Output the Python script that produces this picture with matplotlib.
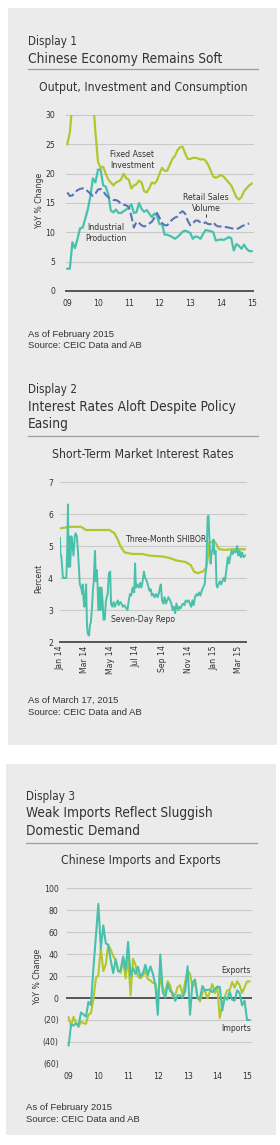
import matplotlib
matplotlib.use('Agg')
import matplotlib.pyplot as plt
from matplotlib.patches import Rectangle
from matplotlib.lines import Line2D

plt.rcParams['font.family'] = 'DejaVu Sans'
plt.rcParams['font.stretch'] = 'condensed'

# ---- Display 1: monthly, Jan 2009 onwards ----
years1 = ['09', '10', '11', '12', '13', '14', '15']
fixed_asset = [25, 27, 32, 32, 32, 32, 32, 32, 32, 32, 33, 27, 22, 21, 21.2, 20, 19, 18.5, 18, 18.5,
               18.7, 19, 20, 19.2, 19, 17.5, 18, 18.2, 18.8, 18.5, 17, 16.8, 17.5, 18.5, 18.3, 18.8, 20, 21, 20.5, 20.5,
               21.5, 22.5, 23, 24, 24.5, 24.6, 23.5, 22.5, 22.5, 22.7, 22.7, 22.6, 22.4, 22.5, 22.2, 21.5, 20.5, 19.5, 19.3, 19.5,
               19.8, 19.5, 19, 18.5, 18, 17, 16, 15.6, 16, 17, 17.5, 18, 18.3]
industrial = [3.8, 3.8, 8.3, 7.3, 8.9, 10.7, 10.8, 12.3, 13.9, 16.1, 19.2, 18.5, 20.7, 20.7, 18, 17.8, 16.5, 13.7, 13.4, 13.9,
              13.3, 13.3, 13.6, 13.9, 14.2, 14.8, 13.3, 13.4, 15, 14, 13.5, 13.8, 13.2, 12.6, 13.2, 12.8, 11.4, 11.4, 9.6, 9.6,
              9.4, 9.2, 8.9, 9.2, 9.6, 10.1, 10.3, 10.1, 9.9, 8.9, 9.3, 9.2, 8.9, 9.7, 10.4, 10.3, 10.2, 10, 8.6, 8.7,
              8.8, 8.7, 8.9, 9.2, 9, 6.9, 8, 7.7, 7.2, 7.9, 7.2, 6.8, 6.8]
retail = [16.8, 16.2, 16.3, 16.8, 17.2, 17.4, 17.5, 17.4, 17, 16.6, 16.2, 16.6, 17.3, 17.4, 17, 16.4, 16, 15.7, 15.5, 15.5,
          15.3, 14.8, 14.7, 14.6, 14.3, 12.8, 10.8, 11.8, 11.6, 11.2, 11, 11.2, 11.5, 11.8, 12.5, 13.3, 12.5, 11.6, 11.2, 11.2,
          11.7, 12.2, 12.5, 12.7, 13.3, 13.6, 13.2, 12, 11.2, 11.5, 12, 12, 11.7, 11.5, 11.7, 11.4, 11.4, 11.7, 11.2, 11,
          11, 10.9, 10.9, 10.8, 10.7, 10.6, 10.6, 10.7, 11, 11.2, 11.4, 11.5]

# ---- Display 2: days since 1 Jan 2014 ----
month_ticks = [0, 59, 120, 181, 243, 304, 365, 424]
month_labels = ['Jan 14', 'Mar 14', 'May 14', 'Jul 14', 'Sep 14', 'Nov 14', 'Jan 15', 'Mar 15']
shibor_day = [0, 23, 50, 62, 117, 129, 137, 143, 153, 172, 196, 212, 243, 259, 275, 298, 310, 318, 326, 338,
              346, 350, 354, 365, 369, 377, 393, 409, 439]
shibor = [5.55, 5.6, 5.6, 5.5, 5.5, 5.4, 5.2, 5.0, 4.8, 4.75, 4.75, 4.7, 4.67, 4.63, 4.55, 4.5, 4.4, 4.2, 4.15, 4.2,
          4.3, 4.6, 5.1, 5.15, 5.1, 4.9, 4.88, 4.9, 4.9]
repo_day = [0, 1, 3, 7, 11, 15, 17, 19, 20, 23, 24, 27, 29, 32, 35, 37, 40, 43, 45, 47,
            50, 53, 54, 56, 58, 60, 62, 64, 66, 69, 71, 73, 76, 78, 80, 83, 85, 87, 89, 91,
            94, 96, 98, 101, 103, 106, 109, 113, 116, 119, 121, 124, 127, 130, 133, 137, 139, 143, 146, 149,
            153, 157, 160, 163, 166, 169, 172, 176, 178, 180, 183, 187, 190, 193, 196, 199, 202, 206, 209, 212,
            215, 218, 221, 224, 228, 231, 234, 237, 239, 242, 245, 248, 251, 254, 257, 261, 264, 267, 270, 273,
            276, 280, 283, 286, 289, 292, 295, 298, 302, 305, 308, 311, 314, 317, 320, 324, 327, 330, 333, 336,
            339, 343, 345, 347, 350, 352, 354, 357, 359, 361, 364, 366, 369, 371, 373, 376, 379, 382, 385, 388,
            391, 394, 398, 401, 404, 407, 410, 413, 417, 420, 423, 426, 429, 432, 435, 439]
repo = [5.25, 4.75, 4.7, 4.0, 4.0, 4.0, 4.85, 6.3, 4.35, 5.3, 4.35, 5.3, 5.1, 4.7, 5.3, 5.4, 5.3, 4.75, 4.25, 3.8,
        3.7, 3.5, 3.8, 3.3, 3.1, 3.5, 3.8, 2.5, 2.25, 2.2, 2.55, 2.6, 3.1, 3.6, 3.9, 4.85, 3.9, 4.25, 3.8, 3.0,
        3.7, 3.0, 3.7, 3.3, 2.7, 2.7, 3.3, 3.5, 4.15, 4.2, 3.2, 3.1, 3.25, 3.1, 3.2, 3.3, 3.15, 3.25, 3.2, 3.1,
        3.15, 3.05, 3.0, 3.3, 3.5, 3.45, 3.7, 3.55, 4.45, 3.7, 3.8, 3.7, 3.85, 3.7, 3.9, 4.2, 4.0, 3.9, 3.75, 3.6,
        3.65, 3.45, 3.5, 3.4, 3.5, 3.4, 3.5, 3.7, 3.8, 3.3, 3.2, 3.4, 3.2, 3.3, 3.4, 3.3, 3.2, 3.0, 3.1, 2.9,
        3.2, 3.0, 3.1, 3.05, 3.15, 3.2, 3.15, 3.3, 3.25, 3.3, 3.2, 3.1, 3.3, 3.15, 3.4, 3.5, 3.45, 3.55, 3.45, 3.6,
        3.7, 3.8, 4.15, 4.35, 5.9, 5.95, 5.3, 4.45, 4.75, 4.85, 5.2, 4.75, 4.85, 3.8, 3.7, 3.8, 3.9, 3.8, 3.9, 4.0,
        3.9, 4.2, 4.65, 4.45, 4.7, 4.85, 4.75, 4.85, 4.8, 5.0, 4.7, 4.85, 4.65, 4.8, 4.65, 4.7]

# ---- Display 3: monthly, Jan 2009 - Feb 2015 ----
years3 = ['09', '10', '11', '12', '13', '14', '15']
exports = [-17.5, -25.7, -17.1, -22.6, -26.4, -21.4, -23, -23.4, -15.2, -13.8, -1.2, 17.7, 21, 45.7, 24.3, 30.5, 48.5, 43.9, 38.1, 34.4,
           25.1, 22.9, 34.9, 17.9, 37.7, 2.4, 35.8, 29.9, 19.4, 17.9, 20.4, 24.5, 17.1, 15.9, 13.8, 13.4, -0.5, 18.4, 8.9, 4.9,
           15.3, 11.3, 1, 2.7, 9.9, 11.6, 2.9, 14.1, 25, 21.8, 10, 14.7, 1, -3.1, 5.1, 7.2, -0.3, 5.6, 12.7, 4.3,
           10.6, -18.1, -6.6, 0.9, 7, 7.2, 14.5, 9.4, 15.3, 11.6, 4.7, 9.7, 15, 15]
imports = [-43.1, -24.1, -25.1, -23, -25.2, -13.2, -14.9, -17, -3.5, -6.4, 26.7, 55.9, 85.5, 44.7, 66, 49.7, 48.3, 34.1, 22.7, 35.2,
           24.1, 25.3, 37.7, 25.6, 51, 19.4, 27.3, 21.8, 28.4, 19.3, 22.9, 30.2, 20.9, 28.7, 22.1, 11.8, -15.3, 39.6, 5.3, 0.3,
           12.7, 6.3, 4.7, -2.6, 2.4, 2.4, 0, 6, 28.8, -15.2, 14.1, 16.8, -0.3, -0.7, 10.9, 7, 7.4, 7.6, 5.3, 8.3,
           10, 10.1, -11.3, 0.8, -1.6, 5.5, -1.6, -2.4, 7, 4.6, -6.7, -2.4, -20, -20]

GREEN = '#b2c72c'
TEAL = '#48c1ab'
BLUE = '#5b74b8'
BOX = '#ebebeb'
DARK = '#333333'
GRID = '#c9c9c9'

W, H = 280, 1145
fig = plt.figure(figsize=(W / 100, H / 100), dpi=100)
fig.patch.set_facecolor('white')


def fx(x):
    return x / W


def fy(y):
    return 1 - y / H


def add_ax(x0, y0, x1, y1):
    return fig.add_axes([fx(x0), fy(y1), (x1 - x0) / W, (y1 - y0) / H])


def box(x0, y0, x1, y1):
    fig.add_artist(Rectangle((fx(x0), fy(y1)), (x1 - x0) / W, (y1 - y0) / H,
                             transform=fig.transFigure, facecolor=BOX, edgecolor='none', zorder=-10))


def rule(x0, x1, y):
    fig.add_artist(Line2D([fx(x0), fx(x1)], [fy(y), fy(y)], color='#9c9c9c', lw=0.9))


def txt(x, y, s, size, **kw):
    kw.setdefault('color', DARK)
    kw.setdefault('va', 'baseline')
    fig.text(fx(x), fy(y), s, fontsize=size, **kw)


def note(x, y, s):
    txt(x, y, s, 6.8, family='Liberation Sans', fontstretch='normal')


def style(ax, ylim, yticks, ylabels, base, ypad, xpad):
    ax.set_facecolor('none')
    for s in ax.spines.values():
        s.set_visible(False)
    ax.set_ylim(*ylim)
    ax.set_yticks(yticks)
    ax.set_yticklabels(ylabels)
    for t in yticks:
        if t == base:
            ax.axhline(t, color='#555555', lw=1.4, zorder=1.5, clip_on=False)
        elif t != ylim[0]:
            ax.axhline(t, color=GRID, lw=0.8, zorder=1, clip_on=False)
    ax.tick_params(axis='y', length=0, labelsize=6.2, colors=DARK, pad=ypad)
    ax.tick_params(axis='x', length=0, labelsize=6.2, colors=DARK, pad=xpad)


box(8, 8, 277, 745)
box(6, 764, 276, 1135)

# ---------------- Display 1 ----------------
txt(28, 45, 'Display 1', 8.4)
txt(28, 63, 'Chinese Economy Remains Soft', 9.8)
rule(28, 258, 69)
txt(143, 91, 'Output, Investment and Consumption', 8.8, ha='center')

ax1 = add_ax(66, 115, 253, 291)
ax1.plot(range(len(fixed_asset)), fixed_asset, color=GREEN, lw=1.6, zorder=2)
ax1.plot(range(len(industrial)), industrial, color=TEAL, lw=1.6, zorder=2)
ax1.plot(range(len(retail)), retail, color=BLUE, lw=1.5, dashes=(4.2, 1.6), zorder=2)
ax1.set_xlim(-0.5, 72.5)
ax1.set_xticks([i * 12 for i in range(len(years1))])
ax1.set_xticklabels(years1)
style(ax1, (0, 30), [0, 5, 10, 15, 20, 25, 30], ['0', '5', '10', '15', '20', '25', '30'], 0, 8, 5.5)
ax1.text(25.4, 22.3, 'Fixed Asset\nInvestment', fontsize=6.2, color=DARK, ha='center', va='center', linespacing=1.3)
ax1.text(54.2, 15.0, 'Retail Sales\nVolume', fontsize=6.2, color=DARK, ha='center', va='center', linespacing=1.3)
ax1.vlines(54.2, 12.6, 13.2, color=DARK, lw=0.7)
ax1.text(15, 9.9, 'Industrial\nProduction', fontsize=6.2, color=DARK, ha='center', va='center', linespacing=1.3)
txt(40, 200, 'YoY % Change', 6.2, rotation=90, ha='center', va='center')

note(28, 337, 'As of February 2015')
note(28, 348, 'Source: CEIC Data and AB')

# ---------------- Display 2 ----------------
txt(28, 393, 'Display 2', 8.4)
txt(28, 411, 'Interest Rates Aloft Despite Policy', 9.8)
txt(28, 428, 'Easing', 9.8)
rule(28, 258, 436)
txt(143, 458, 'Short-Term Market Interest Rates', 8.8, ha='center')

ax2 = add_ax(60, 482, 246, 642)
ax2.plot(shibor_day, shibor, color=GREEN, lw=1.6, zorder=2)
ax2.plot(repo_day, repo, color=TEAL, lw=1.4, zorder=2)
ax2.set_xlim(0, 441)
ax2.set_xticks(month_ticks)
ax2.set_xticklabels(month_labels, rotation=90, ha='center', va='top')
style(ax2, (2, 7), [2, 3, 4, 5, 6, 7], ['2', '3', '4', '5', '6', '7'], 2, 5, 2.5)
ax2.text(153, 5.2, 'Three-Month SHIBOR', fontsize=6.2, color=DARK, ha='left', va='center')
ax2.text(121, 2.7, 'Seven-Day Repo', fontsize=6.2, color=DARK, ha='left', va='center')
txt(39, 578, 'Percent', 6.2, rotation=90, ha='center', va='center')

note(28, 703, 'As of March 17, 2015')
note(28, 715, 'Source: CEIC Data and AB')

# ---------------- Display 3 ----------------
txt(26, 800, 'Display 3', 8.4)
txt(26, 817, 'Weak Imports Reflect Sluggish', 9.8)
txt(26, 835, 'Domestic Demand', 9.8)
rule(26, 257, 843)
txt(141, 864, 'Chinese Imports and Exports', 8.8, ha='center')

ax3 = add_ax(67, 888, 251, 1064)
ax3.plot(range(len(exports)), exports, color=GREEN, lw=1.5, zorder=2)
ax3.plot(range(len(imports)), imports, color=TEAL, lw=1.5, zorder=2.1)
ax3.set_xlim(-0.65, 73.6)
ax3.set_xticks([i * 12 for i in range(len(years3))])
ax3.set_xticklabels(years3)
ticks3 = [-60, -40, -20, 0, 20, 40, 60, 80, 100]
labels3 = ['(60)', '(40)', '(20)', '0', '20', '40', '60', '80', '100']
style(ax3, (-60, 100), ticks3, labels3, 0, 6, 6)
ax3.text(73.6, 25, 'Exports', fontsize=6.2, color=DARK, ha='right', va='center')
ax3.text(73.6, -28, 'Imports', fontsize=6.2, color=DARK, ha='right', va='center')
txt(38, 976, 'YoY % Change', 6.2, rotation=90, ha='center', va='center')

note(26, 1110, 'As of February 2015')
note(26, 1122, 'Source: CEIC Data and AB')

fig.savefig('out.png', dpi=100, facecolor='white')
